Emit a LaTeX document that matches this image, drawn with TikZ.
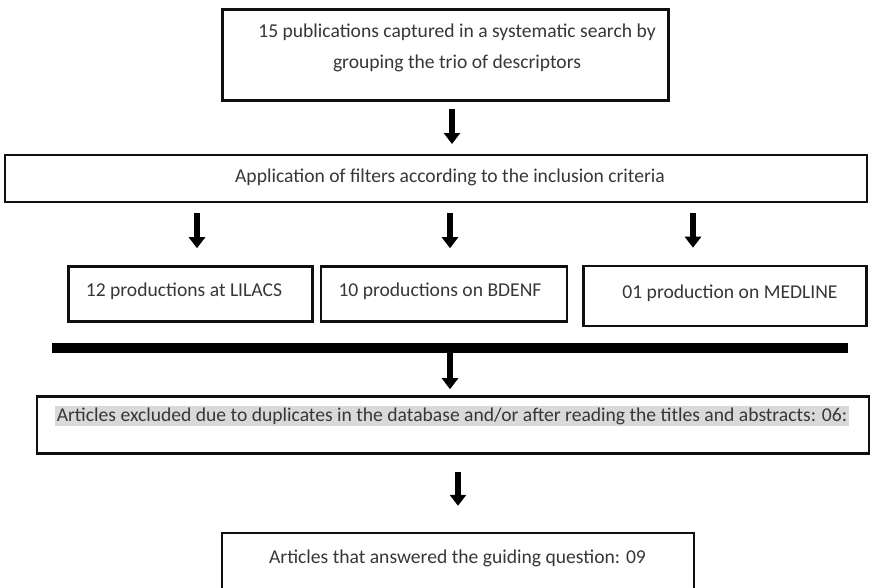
\documentclass[tikz,border=0pt]{standalone}
\usepackage{fontspec}
\setmainfont{Carlito}
\usepackage{tikz}
\usetikzlibrary{calc,arrows.meta}
\definecolor{hlgray}{RGB}{217, 217, 217}
\definecolor{boxline}{RGB}{15, 15, 15}
\definecolor{txtgray}{RGB}{55, 55, 55}

\begin{document}
\begin{tikzpicture}[
  x=1pt, y=-1pt,
  box/.style={draw=boxline, line width=2.6pt, fill=white, inner sep=0pt},
  txt/.style={inner sep=0pt, text=txtgray, font=\fontsize{19.6}{31}\selectfont},
  arr/.style={line width=6.5pt, -{Triangle[width=16pt,length=11pt]}}
]
  \useasboundingbox (0,0) rectangle (880,587);

  % boxes
  \node[box, line width=3pt, minimum width=446pt, minimum height=91pt] (search) at (445,54.5) {};
  \node[box, line width=2pt, minimum width=862pt, minimum height=47pt] (filter) at (436,178.5) {};
  \node[box, minimum width=244pt, minimum height=55pt] (lilacs) at (190.5,294) {};
  \node[box, minimum width=246pt, minimum height=55pt] (bdenf) at (444,294) {};
  \node[box, minimum width=283pt, minimum height=60pt] (medline) at (725,296) {};
  \node[fill=black, inner sep=0pt, minimum width=796pt, minimum height=10pt] (bar) at (450,348) {};
  \node[box, minimum width=832pt, minimum height=57pt] (excluded) at (453,425) {};
  \node[box, line width=2.4pt, minimum width=472pt, minimum height=70pt] (answered) at (458,568) {};

  % texts
  \node[txt, align=center] (searchtxt) at (457,47.5) {15 publications captured in a systematic search by\\grouping the trio of descriptors};
  \node[txt] (filtertxt) at (450,177) {Application of filters according to the inclusion criteria};
  \node[txt] (lilacstxt) at (184,291) {12 productions at LILACS};
  \node[txt] (bdenftxt) at (440,291) {10 productions on BDENF};
  \node[txt] (medlinetxt) at (730,293) {01 production on MEDLINE};
  \node[txt, fill=hlgray, inner xsep=1.5pt, inner ysep=2pt] (excludedtxt) at (452,416) {Articles excluded due to duplicates in the database and/or after reading the titles and abstracts: 06:};
  \node[txt] (answeredtxt) at (457.5,558) {Articles that answered the guiding question: 09};

  % arrows
  \draw[arr] ($(search.south)+(7,7)$) -- ($(filter.north -| search.south)+(7,-10)$);
  \draw[arr] ($(filter.south -| lilacs.north)+(6.5,10)$) -- ($(lilacs.north)+(6.5,-17)$);
  \draw[arr] ($(filter.south -| bdenf.north)+(6,10)$) -- ($(bdenf.north)+(6,-17)$);
  \draw[arr] ($(filter.south -| medline.north)+(-32,10)$) -- ($(medline.north)+(-32,-17)$);
  \draw[arr] (bar.south) -- ($(excluded.north -| bar.south)+(0,-6)$);
  \draw[arr] ($(excluded.south)+(5,17)$) -- ($(answered.north -| excluded.south)+(5,-26)$);
\end{tikzpicture}
\end{document}
